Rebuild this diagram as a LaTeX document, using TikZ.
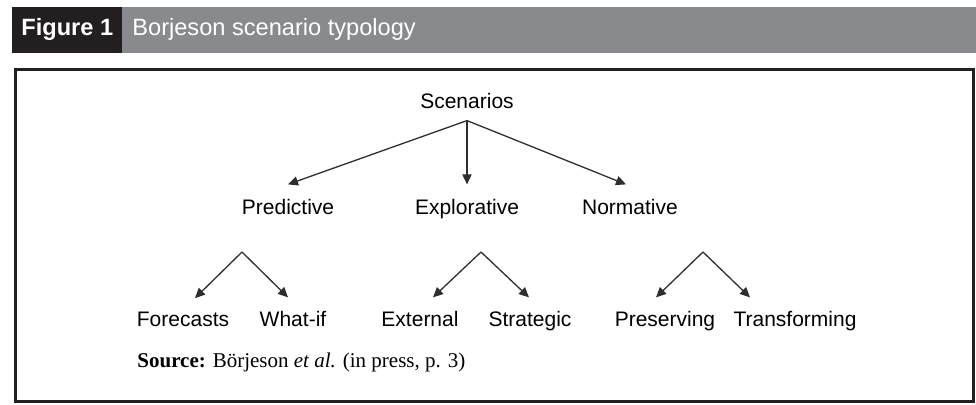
\documentclass[tikz,border=0pt]{standalone}
\usepackage{fontspec}
\setmainfont{Liberation Serif}
\setsansfont{Liberation Sans}
\usetikzlibrary{arrows.meta}
\definecolor{barDark}{HTML}{231F20}
\definecolor{barGray}{HTML}{898A8E}
\definecolor{lineGray}{HTML}{2E2E2E}

\begin{document}
\begin{tikzpicture}[x=0.5pt, y=-0.5pt,
  lbl/.style={font=\sffamily\fontsize{10.5}{12}\selectfont, inner sep=0pt, anchor=base},
  head/.style={inner sep=0pt, anchor=base west, text=white},
  arr/.style={draw=lineGray, line width=0.65pt, -{Triangle[length=5pt,width=4.6pt]}}]

\useasboundingbox (0,0) rectangle (976,405);

% Title bar
\fill[barGray] (122,7) rectangle (976,53);
\fill[barDark] (12,7) rectangle (122,53);
\node[head, font=\sffamily\bfseries\fontsize{11.8}{13}\selectfont] (fignum) at (21,36) {Figure 1};
\node[head, font=\sffamily\fontsize{11.8}{13}\selectfont] (figtitle) at (132,36) {Borjeson scenario typology};

% Frame
\draw[barDark, line width=1.5pt] (15.5,70) rectangle (973,401.5);

% Top level
\node[lbl] (scen) at (467,109) {Scenarios};

% Second level
\node[lbl] (pred) at (288,215) {Predictive};
\node[lbl] (expl) at (467,215) {Explorative};
\node[lbl] (norm) at (630,215) {Normative};

\draw[arr] ([yshift=-5.5pt]scen.south) -- ([yshift=7.5pt]pred.north);
\draw[arr] ([yshift=-5.5pt]scen.south) -- ([yshift=7.5pt]expl.north);
\draw[arr] ([yshift=-5.5pt]scen.south) -- ([yshift=7.5pt,xshift=-2pt]norm.north);

% Leaves
\node[lbl] (fore) at (183,327) {Forecasts};
\node[lbl] (what) at (293,327) {What-if};
\node[lbl] (extn) at (420,327) {External};
\node[lbl] (strat) at (530,327) {Strategic};
\node[lbl] (pres) at (665,327) {Preserving};
\node[lbl] (trans) at (795,327) {Transforming};

% Forks
\coordinate (predfork) at (242,252);
\coordinate (explfork) at (481,252);
\coordinate (normfork) at (703,252);

\draw[arr] (predfork) -- ([xshift=6pt,yshift=7pt]fore.north);
\draw[arr] (predfork) -- ([xshift=-2.5pt,yshift=7pt]what.north);
\draw[arr] (explfork) -- ([xshift=6.5pt,yshift=7pt]extn.north);
\draw[arr] (explfork) -- ([xshift=-0.5pt,yshift=7pt]strat.north);
\draw[arr] (normfork) -- ([xshift=-4.5pt,yshift=7pt]pres.north);
\draw[arr] (normfork) -- ([xshift=-22.5pt,yshift=7pt]trans.north);

% Source
\node[lbl, anchor=base west, font=\rmfamily\fontsize{10.5}{12}\selectfont] (src) at (137,368)
  {\textbf{Source:} Börjeson \textit{et al.} (in press, p. 3)};

\end{tikzpicture}
\end{document}
